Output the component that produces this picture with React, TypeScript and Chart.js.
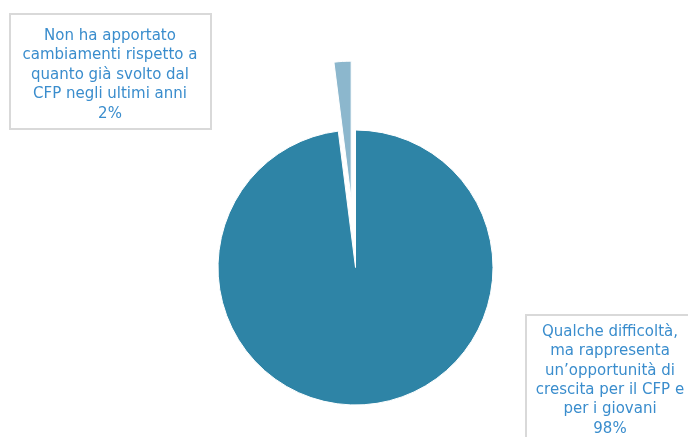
import React, { useEffect, useRef } from "react";
import { Chart, registerables, ArcElement } from "chart.js";

Chart.register(...registerables);

// ---- data ----
const categories = [
  "Qualche difficoltà, ma rappresenta un’opportunità di crescita per il CFP e per i giovani",
  "Non ha apportato cambiamenti rispetto a quanto già svolto dal CFP negli ultimi anni",
];
const values = [98, 2];
const percentLabels = ["98%", "2%"];
const sliceColors = ["#2e84a6", "#8cb7cd"];
const explode = [0, 69];

const labelLinesBig = [
  "Qualche difficoltà,",
  "ma rappresenta",
  "un’opportunità di",
  "crescita per il CFP e",
  "per i giovani",
];
const labelLinesSmall = [
  "Non ha apportato",
  "cambiamenti rispetto a",
  "quanto già svolto dal",
  "CFP negli ultimi anni",
];

// Excel-style explosion: translate the whole slice by the offset, keep its radius
const proto: any = ArcElement.prototype;
if (!proto.__excelExplode) {
  const origDraw = proto.draw;
  proto.draw = function (ctx: CanvasRenderingContext2D) {
    const o = (this.options && this.options.offset) || 0;
    if (!o) return origDraw.call(this, ctx);
    const half = (this.startAngle + this.endAngle) / 2;
    const saved = this.options;
    ctx.save();
    ctx.translate(Math.cos(half) * o, Math.sin(half) * o);
    this.options = { ...saved, offset: 0 };
    origDraw.call(this, ctx);
    this.options = saved;
    ctx.restore();
  };
  proto.__excelExplode = true;
}

const labelBoxes = {
  id: "labelBoxes",
  afterDraw(chart: any) {
    const ctx = chart.ctx as CanvasRenderingContext2D;
    const drawBox = (
      x: number,
      y: number,
      w: number,
      h: number,
      lines: string[],
      cx: number,
      firstBaseline: number,
      step: number
    ) => {
      ctx.save();
      ctx.fillStyle = "#ffffff";
      ctx.fillRect(x, y, w, h);
      ctx.strokeStyle = "#d9d9d9";
      ctx.lineWidth = 2;
      ctx.strokeRect(x, y, w, h);
      ctx.fillStyle = "#3a8dcd";
      ctx.font = '15px "DejaVu Sans"';
      ctx.textAlign = "center";
      ctx.textBaseline = "alphabetic";
      lines.forEach((l, i) => ctx.fillText(l, cx, firstBaseline + i * step));
      ctx.restore();
    };
    drawBox(10, 14, 201, 115, [...labelLinesSmall, percentLabels[1]], 110, 39.5, 19.5);
    drawBox(526, 315, 170, 140, [...labelLinesBig, percentLabels[0]], 610, 336, 19.3);
  },
};

export default function App() {
  const ref = useRef<HTMLCanvasElement | null>(null);
  useEffect(() => {
    if (!ref.current) return;
    const chart = new Chart(ref.current, {
      type: "pie",
      data: {
        labels: categories,
        datasets: [
          {
            data: values,
            backgroundColor: sliceColors,
            borderColor: "#ffffff",
            borderWidth: 1,
            offset: explode,
          },
        ],
      },
      options: {
        responsive: false,
        animation: false,
        devicePixelRatio: 1,
        radius: 137.5,
        rotation: 0,
        layout: { padding: { left: 23, top: 98, right: 0, bottom: 0 } },
        plugins: {
          legend: { display: false },
          tooltip: { enabled: false },
          title: { display: false },
        },
      },
      plugins: [labelBoxes],
    } as any);
    return () => chart.destroy();
  }, []);
  return (
    <div style={{ position: "fixed", left: 0, top: 0, width: 688, height: 437, background: "#fff" }}>
      <canvas ref={ref} width={688} height={437} style={{ display: "block" }} />
    </div>
  );
}
